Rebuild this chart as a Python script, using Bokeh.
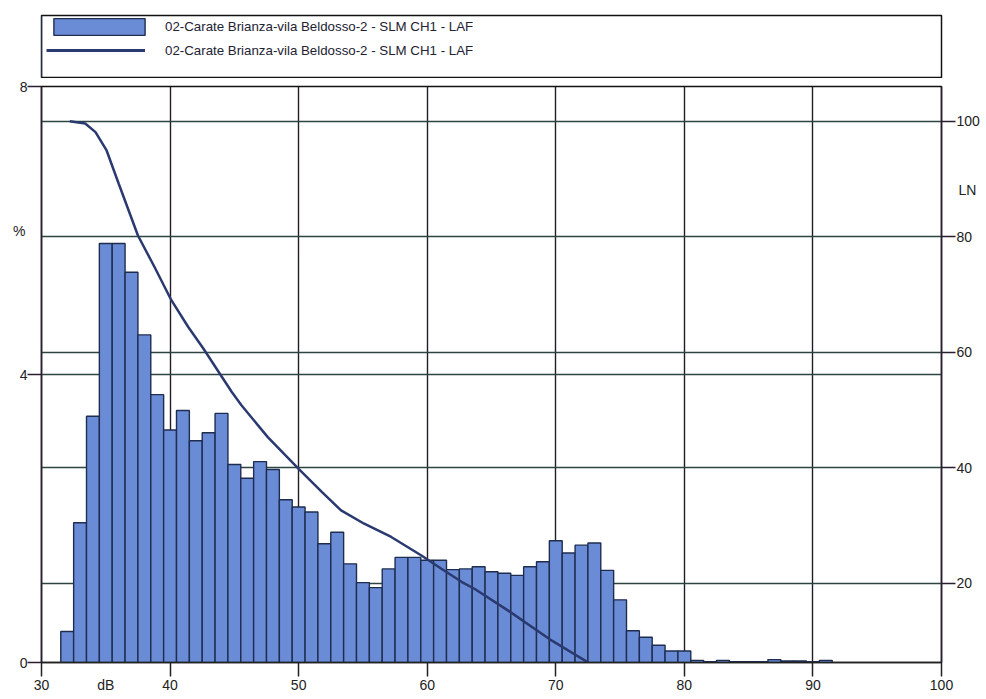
from bokeh.plotting import figure
from bokeh.layouts import column
from bokeh.models import (Range1d, LinearAxis, FixedTicker, Grid, Legend, LegendItem,
                          ColumnDataSource)
from bokeh.embed import file_html
from bokeh.resources import INLINE

# ---- data ----
series_name = "02-Carate Brianza-vila Beldosso-2 - SLM CH1 - LAF"
bar_db = list(range(32, 92))
bar_pct = [0.43, 1.94, 3.42, 5.82, 5.82, 5.42, 4.55, 3.72, 3.23, 3.50,
           3.08, 3.19, 3.46, 2.75, 2.56, 2.79, 2.68, 2.26, 2.16, 2.09,
           1.65, 1.81, 1.37, 1.11, 1.04, 1.30, 1.46, 1.46, 1.42, 1.42,
           1.29, 1.30, 1.33, 1.26, 1.24, 1.21, 1.33, 1.40, 1.69, 1.52,
           1.63, 1.66, 1.28, 0.87, 0.44, 0.35, 0.24, 0.16, 0.16, 0.03,
           0.01, 0.03, 0.01, 0.01, 0.01, 0.04, 0.02, 0.02, 0.01, 0.03]
ln_db = [32.2, 33.4, 34.2, 35.05, 36.0, 37.5, 38.8, 40.1, 41.4, 42.6,
         44.8, 45.55, 47.6, 50.0, 51.8, 53.3, 55.1, 57.2, 59.55, 61.1,
         62.7, 63.7, 66.3, 69.7, 72.5]
ln_val = [100.0, 99.6, 98.1, 95.0, 89.2, 80.2, 74.7, 69.0, 64.4, 60.6,
          53.1, 50.8, 45.3, 39.8, 35.8, 32.6, 30.3, 28.0, 24.8, 22.5,
          20.2, 19.0, 15.25, 10.05, 6.3]
x_ticks = [30, 40, 50, 60, 70, 80, 90, 100]
pct_ticks = [0, 4, 8]
ln_ticks = [20, 40, 60, 80, 100]
x_caption = {35: "dB"}
pct_caption = {6: "%"}
ln_caption = {88: "LN"}

FONT = "Liberation Sans"
BAR_FILL = "#6a8cd6"
BAR_LINE = "#1e2d4f"
CURVE = "#2a3a70"
AX_DARK = "#222222"
AX_PURPLE = "#2a1f30"
TOTAL_W = 983

# ---------------- main chart ----------------
p = figure(frame_width=900, frame_height=576, output_backend="svg", toolbar_location=None,
           x_range=Range1d(30, 100), y_range=Range1d(0, 8),
           min_border_left=41, min_border_top=8, min_border_right=42, min_border_bottom=30)
p.extra_y_ranges = {"ln": Range1d(6.27, 106.0)}
p.background_fill_color = "white"
p.border_fill_color = "white"
p.outline_line_color = "#111111"
p.outline_line_width = 1.5


def style_axis(ax, ticks, color, standoff):
    ax.ticker = FixedTicker(ticks=ticks)
    ax.major_label_text_font = FONT
    ax.major_label_text_font_size = "14px"
    ax.major_label_text_color = AX_DARK
    ax.major_label_standoff = standoff
    ax.minor_tick_line_color = None
    ax.major_tick_in = 0
    ax.major_tick_out = 14
    ax.axis_line_color = color
    ax.axis_line_width = 1.5
    ax.major_tick_line_color = color
    ax.major_tick_line_width = 1.5


def caption_axis(overrides, standoff, **kw):
    # labels only (no line, no tick marks), pulled inward with a negative standoff
    ax = LinearAxis(ticker=FixedTicker(ticks=list(overrides.keys())),
                    major_label_overrides=overrides, **kw)
    ax.axis_line_color = None
    ax.major_tick_line_color = None
    ax.minor_tick_line_color = None
    ax.major_tick_in = 0
    ax.major_tick_out = 0
    ax.major_label_standoff = standoff
    ax.major_label_text_font = FONT
    ax.major_label_text_font_size = "14px"
    ax.major_label_text_color = AX_DARK
    return ax


style_axis(p.xaxis[0], x_ticks, AX_DARK, 3)
style_axis(p.yaxis[0], pct_ticks, AX_PURPLE, 0)
rax = LinearAxis(y_range_name="ln")
style_axis(rax, ln_ticks, AX_PURPLE, 1)
p.add_layout(rax, "right")

p.add_layout(caption_axis(x_caption, -16), "below")
p.add_layout(caption_axis(pct_caption, -9), "left")
p.add_layout(caption_axis(ln_caption, -24, y_range_name="ln"), "right")

# grids
p.xgrid.grid_line_color = "#221c26"
p.xgrid.grid_line_width = 1.4
p.ygrid.grid_line_color = "#2e4440"
p.ygrid.grid_line_width = 1.4
lngrid = Grid(dimension=1, y_range_name="ln", ticker=FixedTicker(ticks=ln_ticks),
              grid_line_color="#2e4440", grid_line_width=1.4)
p.add_layout(lngrid)

# bars
src = ColumnDataSource(dict(x=bar_db, top=bar_pct))
bars = p.vbar(x="x", top="top", bottom=0, width=1.0, source=src,
              fill_color=BAR_FILL, line_color=BAR_LINE, line_width=1.4)

# LN curve
curve = p.line(ln_db, ln_val, y_range_name="ln", line_color=CURVE, line_width=2.5)

# ---------------- legend strip (its frame outline is the legend box) ----------------
lf = figure(width=TOTAL_W, height=78, output_backend="svg", toolbar_location=None,
            x_range=Range1d(0, 1), y_range=Range1d(0, 1),
            min_border_left=0, min_border_right=0, min_border_top=15, min_border_bottom=1)
lf.axis.visible = False
lf.grid.visible = False
lf.outline_line_color = "#111111"
lf.outline_line_width = 1.5
lf.background_fill_color = "white"
lf.border_fill_color = "white"
# legend proxies, placed outside the visible range of the strip
leg_bar = lf.vbar(x=[-5], top=[1], width=0.5, fill_color=BAR_FILL, line_color=BAR_LINE, line_width=1.4)
leg_line = lf.line(x=[-5, -4], y=[0.5, 0.5], line_color=CURVE, line_width=3)

common = dict(orientation="vertical", margin=0, padding=0, spacing=0,
              label_text_font=FONT, label_text_font_size="13.3px", label_text_color="#222233",
              border_line_color=None, background_fill_alpha=0)

leg1 = Legend(items=[LegendItem(label=series_name, renderers=[leg_bar])],
              location=(1, 40), glyph_width=114, glyph_height=21, label_height=21,
              label_standoff=9, **common)
leg2 = Legend(items=[LegendItem(label=series_name, renderers=[leg_line])],
              location=(5, 17), glyph_width=99, glyph_height=20, label_height=20,
              label_standoff=20, **common)
lf.add_layout(leg1, "center")
lf.add_layout(leg2, "center")

layout = column(lf, p, spacing=0)
open("out.html", "w").write(file_html(layout, INLINE))
